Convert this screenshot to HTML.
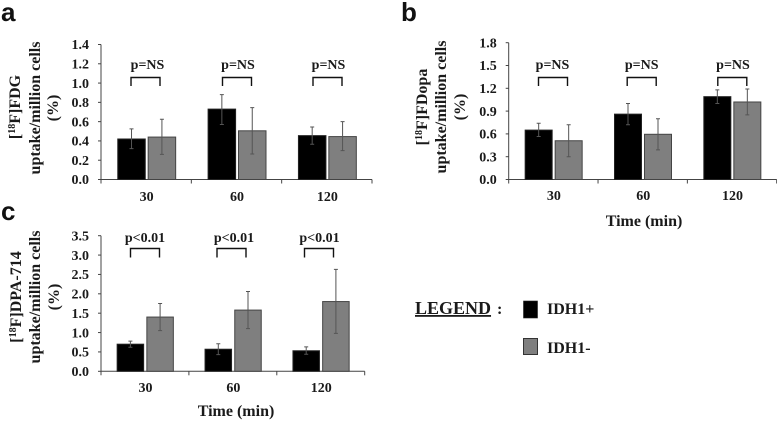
<!DOCTYPE html>
<html>
<head>
<meta charset="utf-8">
<title>Tracer uptake by IDH1 status</title>
<style>
html,body{margin:0;padding:0;background:#fff;}
svg{display:block;filter:blur(0.35px);}
text{font-family:"Liberation Serif",serif;font-weight:bold;fill:#1a1a1a;}
.letter{font-family:"Liberation Sans",sans-serif;font-size:26px;fill:#111;}
.tick{font-size:14px;}
.title{font-size:16px;text-anchor:middle;}
.time{font-size:16px;text-anchor:middle;}
.leg{font-size:16px;}
.legtitle{font-size:18px;}
</style>
</head>
<body>
<svg id="figure" width="777" height="421" viewBox="0 0 777 421" xmlns="http://www.w3.org/2000/svg">
  <text class="letter" x="1" y="21">a</text>
  <text class="letter" x="401" y="21">b</text>
  <text class="letter" x="1" y="220">c</text>

  <g>
    <text class="title" transform="translate(20,107) rotate(-90)">[<tspan font-size="10" dy="-5">18</tspan><tspan dy="5">F]FDG</tspan></text>
    <text class="title" transform="translate(40,108) rotate(-90)">uptake/million cells</text>
    <text class="title" transform="translate(58,108) rotate(-90)">(%)</text>
  </g>
  <g>
    <text class="title" transform="translate(427,107) rotate(-90)">[<tspan font-size="10" dy="-5">18</tspan><tspan dy="5">F]FDopa</tspan></text>
    <text class="title" transform="translate(446,107) rotate(-90)">uptake/million cells</text>
    <text class="title" transform="translate(465,107) rotate(-90)">(%)</text>
  </g>
  <g>
    <text class="title" transform="translate(21,297) rotate(-90)">[<tspan font-size="10" dy="-5">18</tspan><tspan dy="5">F]DPA-714</tspan></text>
    <text class="title" transform="translate(40,297) rotate(-90)">uptake/million cells</text>
    <text class="title" transform="translate(59,297) rotate(-90)">(%)</text>
  </g>

  <text class="time" x="644" y="226">Time (min)</text>
  <text class="time" x="236" y="416">Time (min)</text>

  <g>
    <text class="legtitle" x="415" y="314" text-decoration="underline">LEGEND</text>
    <text class="leg" x="497" y="314">:</text>
    <rect x="523.5" y="301" width="14" height="17" fill="#000" stroke="#222" stroke-width="0.6"/>
    <text class="leg" x="547" y="314">IDH1+</text>
    <rect x="523.5" y="338.5" width="14" height="16" fill="#7f7f7f" stroke="#333" stroke-width="1"/>
    <text class="leg" x="547" y="353">IDH1-</text>
  </g>
</svg>
<script>
const categories = ['30', '60', '120'];

const aTicks = ['0.0', '0.2', '0.4', '0.6', '0.8', '1.0', '1.2', '1.4'];
const aPositive = [0.42, 0.73, 0.455];
const aPositiveHigh = [0.525, 0.88, 0.545];
const aPositiveLow = [0.32, 0.57, 0.365];
const aNegative = [0.44, 0.505, 0.445];
const aNegativeHigh = [0.625, 0.745, 0.6];
const aNegativeLow = [0.26, 0.265, 0.3];
const aPValues = ['p=NS', 'p=NS', 'p=NS'];

const bTicks = ['0.0', '0.3', '0.6', '0.9', '1.2', '1.5', '1.8'];
const bPositive = [0.65, 0.86, 1.09];
const bPositiveHigh = [0.74, 1.0, 1.18];
const bPositiveLow = [0.565, 0.72, 1.0];
const bNegative = [0.51, 0.595, 1.02];
const bNegativeHigh = [0.72, 0.8, 1.19];
const bNegativeLow = [0.3, 0.39, 0.85];
const bPValues = ['p=NS', 'p=NS', 'p=NS'];

const cTicks = ['0.0', '0.5', '1.0', '1.5', '2.0', '2.5', '3.0', '3.5'];
const cPositive = [0.7, 0.57, 0.53];
const cPositiveHigh = [0.78, 0.71, 0.63];
const cPositiveLow = [0.62, 0.43, 0.44];
const cNegative = [1.4, 1.58, 1.8];
const cNegativeHigh = [1.75, 2.06, 2.63];
const cNegativeLow = [1.05, 1.1, 0.98];
const cPValues = ['p<0.01', 'p<0.01', 'p<0.01'];

const NS = 'http://www.w3.org/2000/svg';
const figure = document.getElementById('figure');

function make(tag, attrs, parent) {
  const el = document.createElementNS(NS, tag);
  for (const k in attrs) el.setAttribute(k, attrs[k]);
  parent.appendChild(el);
  return el;
}

function drawPanel(id, box, data) {
  const g = make('g', {}, figure);
  
  

  const maxValue = parseFloat(data.ticks[data.ticks.length - 1]);
  const yScale = function (v) { return box.y0 - (v / maxValue) * (box.y0 - box.yTop); };
  const band = (box.x1 - box.x0) / data.categories.length;
  const xCenter = function (i) { return box.x0 + band * (i + 0.5); };
  const axisStroke = '#444';

  const yAxis = make('line', { x1: box.x0, x2: box.x0, y1: box.yTop, y2: box.y0, stroke: axisStroke, 'stroke-width': 1 }, g);
  
  

  data.ticks.forEach(function (label) {
    const y = yScale(parseFloat(label));
    const tick = make('line', { x1: box.x0 - 3, x2: box.x0, y1: y, y2: y, stroke: axisStroke, 'stroke-width': 1 }, g);
    
    
    const text = make('text', { class: 'tick', x: box.x0 - 12, y: y + 4.7, 'text-anchor': 'end' }, g);
    
    
    text.textContent = label;
  });

  const xAxis = make('line', { x1: box.x0, x2: box.x1, y1: box.y0, y2: box.y0, stroke: axisStroke, 'stroke-width': 1 }, g);
  
  

  for (let i = 0; i <= data.categories.length; i++) {
    const x = box.x0 + band * i;
    const tick = make('line', { x1: x, x2: x, y1: box.y0, y2: box.y0 + 4, stroke: axisStroke, 'stroke-width': 1 }, g);
    
    
  }

  function drawBar(i, value, high, low, left, fill, stroke, series) {
    const y = yScale(value);
    const bar = make('rect', { x: left, y: y, width: box.barWidth, height: box.y0 - y, fill: fill, stroke: stroke, 'stroke-width': 1 }, g);
    
    
    const mid = left + box.barWidth / 2;
    const err = make('path', {
      d: 'M' + (mid - 2) + ' ' + yScale(high) + 'H' + (mid + 2) +
         'M' + mid + ' ' + yScale(high) + 'V' + yScale(low) +
         'M' + (mid - 2) + ' ' + yScale(low) + 'H' + (mid + 2),
      fill: 'none', stroke: '#555', 'stroke-width': 1
    }, g);
    
    
  }

  data.categories.forEach(function (cat, i) {
    const c = xCenter(i);
    drawBar(i, data.positive[i], data.positiveHigh[i], data.positiveLow[i], c + box.blackOffset, '#000', '#222', 'idh1-positive');
    drawBar(i, data.negative[i], data.negativeHigh[i], data.negativeLow[i], c + box.grayOffset, '#7f7f7f', '#444', 'idh1-negative');

    const label = make('text', { class: 'tick', x: c + 0.5, y: box.catBaseline, 'text-anchor': 'middle' }, g);
    
    
    label.textContent = cat;

    const bx = box.bracketLeft[i];
    const bracket = make('path', {
      d: 'M' + bx + ' ' + box.bracketBottom + 'V' + box.bracketTop + 'H' + (bx + 29) + 'V' + box.bracketBottom,
      fill: 'none', stroke: '#111', 'stroke-width': 1.4
    }, g);
    
    

    const p = make('text', { class: 'tick', x: box.pCenter[i], y: box.pBaseline, 'text-anchor': 'middle' }, g);
    
    
    p.textContent = data.pValues[i];
  });
}

drawPanel('a',
  { x0: 101, x1: 372, y0: 179.5, yTop: 44.5, barWidth: 27.5, blackOffset: -28.4, grayOffset: 2,
    catBaseline: 201, bracketLeft: [131, 222.5, 313], bracketTop: 77.5, bracketBottom: 86,
    pCenter: [147.5, 238, 328.5], pBaseline: 69 },
  { categories: categories, ticks: aTicks, positive: aPositive, positiveHigh: aPositiveHigh, positiveLow: aPositiveLow,
    negative: aNegative, negativeHigh: aNegativeHigh, negativeLow: aNegativeLow, pValues: aPValues });

drawPanel('b',
  { x0: 508.7, x1: 776.7, y0: 179.5, yTop: 42.7, barWidth: 27, blackOffset: -28.2, grayOffset: 1.8,
    catBaseline: 200, bracketLeft: [538.5, 627.2, 717.8], bracketTop: 77.5, bracketBottom: 86,
    pCenter: [552.5, 641.7, 733], pBaseline: 69 },
  { categories: categories, ticks: bTicks, positive: bPositive, positiveHigh: bPositiveHigh, positiveLow: bPositiveLow,
    negative: bNegative, negativeHigh: bNegativeHigh, negativeLow: bNegativeLow, pValues: bPValues });

drawPanel('c',
  { x0: 101, x1: 364.7, y0: 371.3, yTop: 235.7, barWidth: 26.5, blackOffset: -27.8, grayOffset: 1.9,
    catBaseline: 392, bracketLeft: [130.5, 217, 304.5], bracketTop: 248.5, bracketBottom: 257.5,
    pCenter: [145, 234, 319.5], pBaseline: 242 },
  { categories: categories, ticks: cTicks, positive: cPositive, positiveHigh: cPositiveHigh, positiveLow: cPositiveLow,
    negative: cNegative, negativeHigh: cNegativeHigh, negativeLow: cNegativeLow, pValues: cPValues });
</script>
</body>
</html>
